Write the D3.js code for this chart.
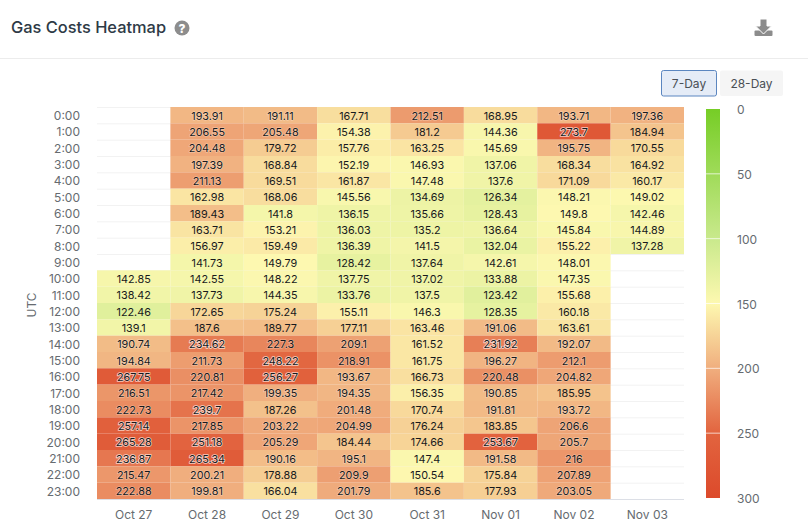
<!DOCTYPE html>
<html>
<head>
<meta charset="utf-8">
<script src="https://cdn.jsdelivr.net/npm/d3@7"></script>
<style>
html,body{margin:0;padding:0;background:#fff;overflow:hidden}
svg{display:block}
text{font-family:Inter,"Noto Sans",sans-serif}
</style>
</head>
<body>
<svg id="chart" width="808" height="532"></svg>
<script>
const titleText = "Gas Costs Heatmap";
const axisTitle = "UTC";
const buttons = ["7-Day", "28-Day"];
const days = ["Oct 27","Oct 28","Oct 29","Oct 30","Oct 31","Nov 01","Nov 02","Nov 03"];
const hours = ["0:00","1:00","2:00","3:00","4:00","5:00","6:00","7:00","8:00","9:00","10:00","11:00","12:00","13:00","14:00","15:00","16:00","17:00","18:00","19:00","20:00","21:00","22:00","23:00"];
const oct27 = [null,null,null,null,null,null,null,null,null,null,142.85,138.42,122.46,139.1,190.74,194.84,267.75,216.51,222.73,257.14,265.28,236.87,215.47,222.88];
const oct28 = [193.91,206.55,204.48,197.39,211.13,162.98,189.43,163.71,156.97,141.73,142.55,137.73,172.65,187.6,234.62,211.73,220.81,217.42,239.7,217.85,251.18,265.34,200.21,199.81];
const oct29 = [191.11,205.48,179.72,168.84,169.51,168.06,141.8,153.21,159.49,149.79,148.22,144.35,175.24,189.77,227.3,248.22,256.27,199.35,187.26,203.22,205.29,190.16,178.88,166.04];
const oct30 = [167.71,154.38,157.76,152.19,161.87,145.56,136.15,136.03,136.39,128.42,137.75,133.76,155.11,177.11,209.1,218.91,193.67,194.35,201.48,204.99,184.44,195.1,209.9,201.79];
const oct31 = [212.51,181.2,163.25,146.93,147.48,134.69,135.66,135.2,141.5,137.64,137.02,137.5,146.3,163.46,161.52,161.75,166.73,156.35,170.74,176.24,174.66,147.4,150.54,185.6];
const nov01 = [168.95,144.36,145.69,137.06,137.6,126.34,128.43,136.64,132.04,142.61,133.88,123.42,128.35,191.06,231.92,196.27,220.48,190.85,191.81,183.85,253.67,191.58,175.84,177.93];
const nov02 = [193.71,273.7,195.75,168.34,171.09,148.21,149.8,145.84,155.22,148.01,147.35,155.68,160.18,163.61,192.07,212.1,204.82,185.95,193.72,206.6,205.7,216,207.89,203.05];
const nov03 = [197.36,184.94,170.55,164.92,160.17,149.02,142.46,144.89,137.28,null,null,null,null,null,null,null,null,null,null,null,null,null,null,null];
const columns = [oct27,oct28,oct29,oct30,oct31,nov01,nov02,nov03];
const legendTicks = [0,50,100,150,200,250,300];
const colorStops = [0,100,150,200,250,300];
const colorValues = ["#76cd26","#c9e98c","#fdf8b0","#f0ae7e","#e2643f","#dc4a2b"];

const svg = d3.select("#chart");
const x = d3.scaleBand().domain(days).range([97,684]).padding(0);
const y = d3.scaleBand().domain(hours).range([107,499]).padding(0);
const color = d3.scaleLinear().domain(colorStops).range(colorValues).interpolate(d3.interpolateRgb);
const legendY = d3.scaleLinear().domain([0,300]).range([109,498]);

// Header
svg.append("text").attr("x",11).attr("y",33).attr("font-size",16.4).attr("font-weight",500).attr("fill","#2e3a46").text(titleText);
svg.append("circle").attr("cx",182).attr("cy",28).attr("r",7.5).attr("fill","#8d8d8d");
svg.append("text").attr("x",182).attr("y",32.5).attr("text-anchor","middle").attr("font-size",12).attr("font-weight",800).attr("fill","#fff").text("?");
svg.append("line").attr("x1",0).attr("x2",808).attr("y1",58.5).attr("y2",58.5).attr("stroke","#ececec");

// Download icon
const icon = svg.append("g").attr("fill","#8c8c8c");
icon.append("rect").attr("x",754.5).attr("y",30.5).attr("width",18).attr("height",5.5).attr("rx",1);
icon.append("path").attr("d","M760 19h7v7h4.5l-8 8-8-8h4.5z").attr("stroke","#fff").attr("stroke-width",1);

// Buttons
const btn = [{x:661.5,w:55,fill:"#e5ecf7",stroke:"#5b86c0"},{x:720,w:63,fill:"#f5f5f5",stroke:"none"}];
buttons.forEach((b,i)=>{
  svg.append("rect").attr("x",btn[i].x).attr("y",70.5).attr("width",btn[i].w).attr("height",25.5).attr("rx",2).attr("fill",btn[i].fill).attr("stroke",btn[i].stroke);
  svg.append("text").attr("x",btn[i].x+btn[i].w/2).attr("y",87.5).attr("text-anchor","middle").attr("font-size",12).attr("fill","#4a4f55").text(b);
});

// Empty cell gridlines
svg.append("g").selectAll("line").data(d3.range(0,24)).join("line")
  .attr("x1",97).attr("x2",684)
  .attr("y1",d=>y(hours[d])+0.5).attr("y2",d=>y(hours[d])+0.5)
  .attr("stroke","#f2f2f2");

// Cells
const cells = [];
columns.forEach((col,c)=>col.forEach((v,r)=>{ if(v!==null) cells.push({day:days[c],hour:hours[r],v}); }));
svg.append("g").selectAll("rect").data(cells).join("rect")
  .attr("x",d=>x(d.day)).attr("y",d=>y(d.hour))
  .attr("width",x.bandwidth()).attr("height",y.bandwidth())
  .attr("fill",d=>color(d.v));

// Bottom axis line
svg.append("line").attr("x1",97).attr("x2",684).attr("y1",499.5).attr("y2",499.5).attr("stroke","#dcdfe6");

// Cell labels
svg.append("g").selectAll("text").data(cells).join("text")
  .attr("x",d=>x(d.day)+x.bandwidth()/2)
  .attr("y",d=>y(d.hour)+y.bandwidth()/2+4.5)
  .attr("text-anchor","middle").attr("font-size",10.8).attr("fill","#17191c")
  .attr("stroke",d=>d.v>=190?"#fff":"none")
  .attr("stroke-width",d=>d.v>=230?1.6:1.2)
  .attr("stroke-opacity",d=>d.v>=230?0.7:0.4)
  .style("paint-order","stroke")
  .text(d=>d.v);

// Axis labels
const axisColor = "#666b70";
const yAxis = svg.append("g").attr("transform","translate(80,1)").call(d3.axisLeft(y).tickSize(0).tickPadding(0));
yAxis.select(".domain").remove();
yAxis.selectAll("text").attr("font-size",12).attr("fill",axisColor).attr("font-family","Inter,'Noto Sans',sans-serif");
const xAxis = svg.append("g").attr("transform","translate(0,499)").call(d3.axisBottom(x).tickSize(0).tickPadding(11));
xAxis.select(".domain").remove();
xAxis.selectAll("text").attr("font-size",12).attr("fill",axisColor).attr("font-family","Inter,'Noto Sans',sans-serif");
svg.append("text").attr("transform","translate(36,305) rotate(-90)").attr("text-anchor","middle").attr("font-size",12).attr("fill",axisColor).text(axisTitle);

// Legend
const defs = svg.append("defs");
const grad = defs.append("linearGradient").attr("id","legendGrad").attr("x1",0).attr("x2",0).attr("y1",0).attr("y2",1);
grad.selectAll("stop").data(colorStops).join("stop")
  .attr("offset",d=>d/300).attr("stop-color",d=>color(d));
svg.append("rect").attr("x",706).attr("y",legendY(0)).attr("width",14).attr("height",legendY(300)-legendY(0)).attr("fill","url(#legendGrad)");
svg.append("g").selectAll("line").data(legendTicks.slice(1,-1)).join("line")
  .attr("x1",706).attr("x2",720).attr("y1",d=>legendY(d)).attr("y2",d=>legendY(d)).attr("stroke","#fff").attr("stroke-opacity",0.7);
svg.append("g").selectAll("text").data(legendTicks).join("text")
  .attr("x",737).attr("y",d=>legendY(d)+5).attr("font-size",12).attr("fill",axisColor).text(d=>d);
</script>
</body>
</html>
